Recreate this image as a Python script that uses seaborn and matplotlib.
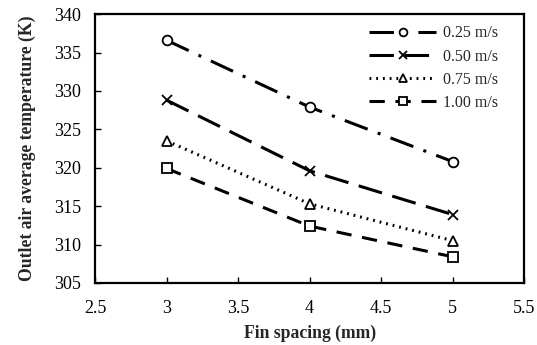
import matplotlib
matplotlib.use("Agg")
import matplotlib.pyplot as plt
import seaborn as sns
import pandas as pd

fin_spacing = [3, 4, 5]
speeds = ["0.25 m/s", "0.50 m/s", "0.75 m/s", "1.00 m/s"]
temp_025 = [336.6, 327.9, 320.8]
temp_050 = [328.8, 319.6, 313.9]
temp_075 = [323.5, 315.3, 310.5]
temp_100 = [319.9, 312.4, 308.4]

df = pd.DataFrame({
    "Fin spacing (mm)": fin_spacing * 4,
    "Temperature": temp_025 + temp_050 + temp_075 + temp_100,
    "Speed": [s for s in speeds for _ in fin_spacing],
})

sns.set_theme(style="white")
plt.rcParams["font.family"] = ["Liberation Serif", "DejaVu Serif"]

fig = plt.figure(figsize=(5.37, 3.45), dpi=100)
ax = fig.add_axes([0.177, 0.18, 0.799, 0.779])

styles = {
    "0.25 m/s": dict(marker="o", dashes=(8, 3.5, 1, 3.5)),
    "0.50 m/s": dict(marker="x", dashes=(8, 3.5)),
    "0.75 m/s": dict(marker="^", dashes=(0.6, 1.6)),
    "1.00 m/s": dict(marker="s", dashes=(5, 3.5)),
}

for sp in speeds:
    sub = df[df["Speed"] == sp]
    st = styles[sp]
    sns.lineplot(data=sub, x="Fin spacing (mm)", y="Temperature", ax=ax,
                 color="black", lw=2.2, marker=st["marker"], markersize=7,
                 markerfacecolor="white", markeredgecolor="black",
                 markeredgewidth=1.3, dashes=st["dashes"], label=sp)

ax.set_xlim(2.5, 5.5)
ax.set_ylim(305, 340)
ax.set_xticks([2.5, 3, 3.5, 4, 4.5, 5, 5.5])
ax.set_xticklabels(["2.5", "3", "3.5", "4", "4.5", "5", "5.5"])
ax.set_yticks(range(305, 341, 5))
ax.tick_params(direction="in", length=4, width=1, labelsize=13, colors="black",
               left=True, bottom=True)
ax.tick_params(axis="y", pad=10)
ax.tick_params(axis="x", pad=12)
for s in ax.spines.values():
    s.set_color("black")
    s.set_linewidth(1.6)

ax.set_xlabel("Fin spacing (mm)", fontsize=12.7, fontweight="bold", labelpad=6)
ax.set_ylabel("Outlet air average temperature (K)", fontsize=12.7, fontweight="bold", labelpad=13)

ax.legend(loc="upper right", frameon=False, fontsize=11.5, handlelength=4.2,
          labelspacing=0.45, borderaxespad=0.3, handletextpad=0.4,
          markerscale=0.8, bbox_to_anchor=(0.965, 1.0))

fig.savefig("out.png", dpi=100)
